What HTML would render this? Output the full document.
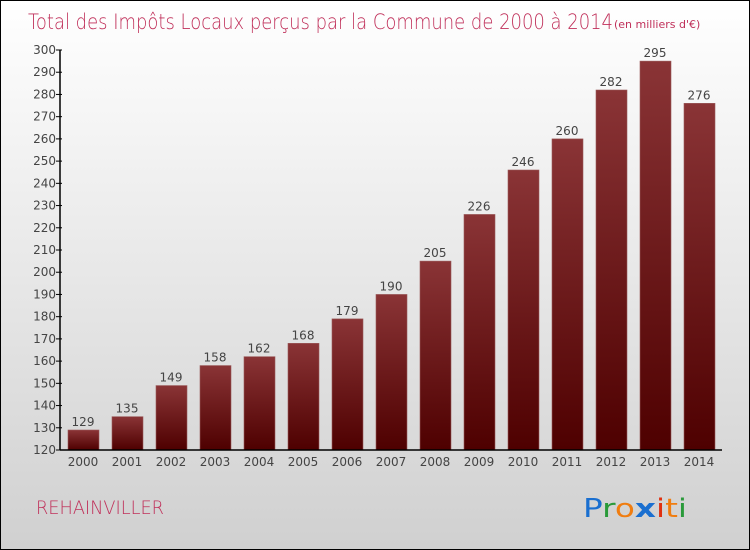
<!DOCTYPE html>
<html><head><meta charset="utf-8"><style>
html,body{margin:0;padding:0}
body{width:750px;height:550px;overflow:hidden;font-family:"DejaVu Sans","Liberation Sans",sans-serif}
#wrap{position:relative;width:748px;height:548px;border:1px solid #000;background:linear-gradient(#ffffff,#d0d0d0)}
</style></head><body>
<div id="wrap">
<svg id="chart" width="748" height="548" style="position:absolute;left:0;top:0">
<defs>
<linearGradient id="bg" x1="0" y1="0" x2="0" y2="1"><stop offset="0" stop-color="#8a3436"/><stop offset="1" stop-color="#4e0000"/></linearGradient>
</defs>
<text x="27" y="28" font-size="21" fill="#c0305a" font-family="DejaVu Sans" font-weight="200" textLength="585" lengthAdjust="spacingAndGlyphs">Total des Impôts Locaux perçus par la Commune de 2000 à 2014</text>
<text x="613" y="27" font-size="11" fill="#c0305a">(en milliers d'€)</text>
<g id="plot"></g>
<text x="35" y="513" font-size="19" fill="#c0305a" font-weight="200" textLength="128" lengthAdjust="spacingAndGlyphs">REHAINVILLER</text>
<g font-family="DejaVu Sans" font-size="26">
<text x="582" y="516" textLength="104" lengthAdjust="spacingAndGlyphs"><tspan fill="#1a6fd0">P</tspan><tspan fill="#2a9a3a">r</tspan><tspan fill="#f07d10">o</tspan><tspan fill="#1a6fd0" font-weight="bold">x</tspan><tspan fill="#e03010">i</tspan><tspan fill="#f07d10">t</tspan><tspan fill="#2a9a3a">i</tspan></text>
</g>
</svg>
</div>
<script>
const categories=["2000","2001","2002","2003","2004","2005","2006","2007","2008","2009","2010","2011","2012","2013","2014"];
const values=[129,135,149,158,162,168,179,190,205,226,246,260,282,295,276];
const yTicks=[120,130,140,150,160,170,180,190,200,210,220,230,240,250,260,270,280,290,300];
const ns="http://www.w3.org/2000/svg";
const g=document.getElementById('plot');
const x0=59,band=44,yMin=120,yMax=300,yTop=49,yBot=449;
const y=v=>yBot-(v-yMin)/(yMax-yMin)*(yBot-yTop);
const xc=i=>x0+band/2+band*i+1;
function mk(t,a){const e=document.createElementNS(ns,t);for(const k in a)e.setAttribute(k,a[k]);g.appendChild(e);return e;}
values.forEach((v,i)=>{
 const r=mk('rect',{x:xc(i)-15,y:y(v),width:31,height:yBot-y(v),fill:'url(#bg)',stroke:'#9a5a5a','stroke-width':0.6});
 
 
 const t=mk('text',{x:xc(i),y:y(v)-4,'text-anchor':'middle','font-size':12,fill:'#444'});
 t.textContent=v;
 
 
 const c=mk('text',{x:xc(i),y:yBot+16,'text-anchor':'middle','font-size':12,fill:'#444'});
 c.textContent=categories[i];
 
 
});
yTicks.forEach(v=>{
 const l=mk('line',{x1:x0-4,x2:x0+2,y1:y(v),y2:y(v),stroke:'#000'});
 
 
 const t=mk('text',{x:x0-4,y:y(v)+4,'text-anchor':'end','font-size':12,fill:'#444'});
 t.textContent=v;
 
 
});
const ya=mk('line',{x1:x0,x2:x0,y1:yTop,y2:yBot,stroke:'#000','stroke-width':1.5});


const xa=mk('line',{x1:x0,x2:x0+band*categories.length+2,y1:yBot,y2:yBot,stroke:'#000','stroke-width':1.5});


</script>
</body></html>
